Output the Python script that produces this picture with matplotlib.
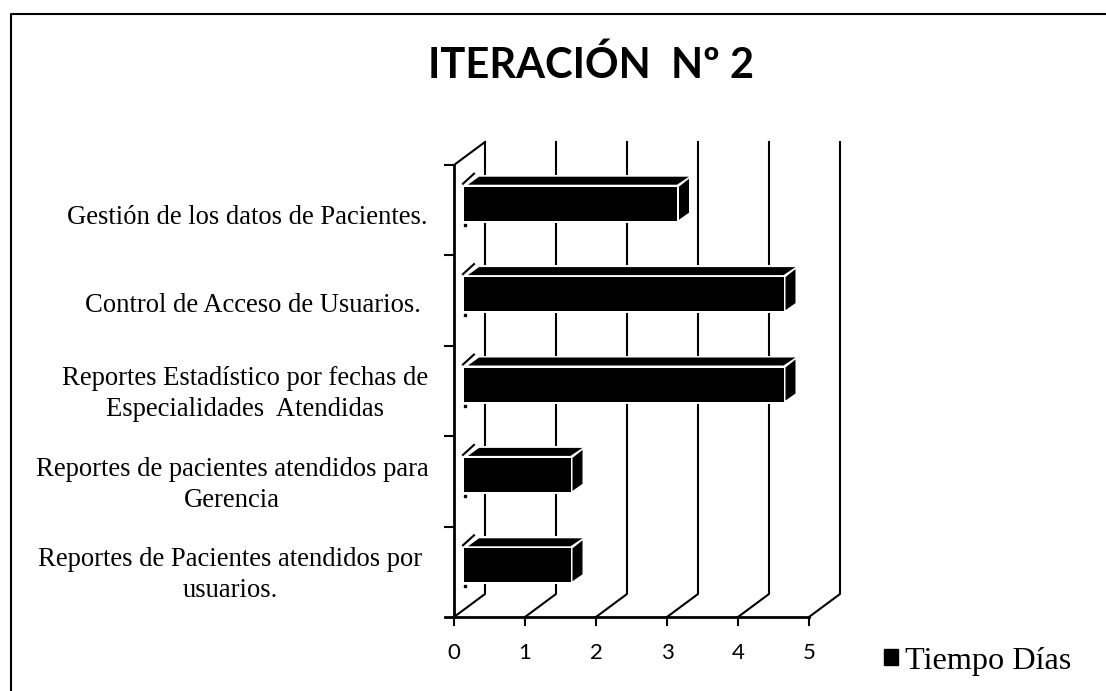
import matplotlib
matplotlib.use('Agg')
import matplotlib.pyplot as plt
from matplotlib.patches import Polygon, Patch
from matplotlib.lines import Line2D

W, H = 1106, 691

title = 'ITERACIÓN  Nº 2'
categorias = ['Reportes de Pacientes atendidos por\nusuarios.',
              'Reportes de pacientes atendidos para\nGerencia',
              'Reportes Estadístico por fechas de\nEspecialidades  Atendidas',
              'Control de Acceso de Usuarios.',
              'Gestión de los datos de Pacientes.']
dias = [1.5, 1.5, 4.5, 4.5, 3]
ticks_x = [0, 1, 2, 3, 4, 5]
serie = 'Tiempo Días'

# label centres in pixels, the labels are not lined up in the original
label_x = [230.5, 232, 245, 252.5, 247]
label_y = [575, 485, 394, 306, 218]

fig = plt.figure(figsize=(W / 100, H / 100), dpi=100, facecolor='white')
ax = fig.add_axes([454 / W, 1 - 617 / H, 355 / W, 452 / H])
ax.set_xlim(0, 5)
ax.set_ylim(0, 5)
ax.axis('off')

px = 5 / 355.0   # one pixel in x units
py = 5 / 452.0   # one pixel in y units

# back wall offset of the fake 3d box
wx, wy = 31 * px, 23 * py

for t in ticks_x:
    ax.plot([t, t + wx, t + wx], [0, wy, 5 + wy], color='black', lw=1.5, clip_on=False, zorder=1)
ax.plot([0, wx], [5, 5 + wy], color='black', lw=1.5, clip_on=False, zorder=1)

# front axes and ticks
ax.plot([0, 0], [0, 5], color='black', lw=2, clip_on=False, zorder=2)
ax.plot([-9 * px, 5], [0, 0], color='black', lw=2, clip_on=False, zorder=2)
for i in range(1, 6):
    ax.plot([-9 * px, 0], [i, i], color='black', lw=1.5, clip_on=False, zorder=2)
for t in ticks_x:
    ax.plot([t, t], [0, -8 * py], color='black', lw=1.5, clip_on=False, zorder=2)
    ax.text(t, -36 * py, str(t), family='Lato', fontsize=16, ha='center', va='center')

# bars
x0 = 10 * px
dx, dy = 12 * px, 10 * py
alto = 34 * py
for i, v in enumerate(dias):
    yb = i + 0.5 + 6.5 * py - alto / 2
    yt = yb + alto
    # blank out the wall behind the bar, with a margin
    ax.add_patch(Polygon([(x0 - 3 * px, yb - 2 * py), (x0 + v + dx + 3 * px, yb - 2 * py),
                          (x0 + v + dx + 3 * px, yt + dy + 2 * py), (x0 - 3 * px, yt + dy + 2 * py)],
                         fc='white', ec='none', zorder=3))
    ax.barh(i + 0.5 + 6.5 * py, v, height=alto, left=x0, color='black', zorder=4)
    ax.add_patch(Polygon([(x0 + 4 * px, yt + 2 * py), (x0 + dx + 3 * px, yt + dy), (x0 + v + dx, yt + dy),
                          (x0 + v, yt + 2 * py)], fc='black', ec='none', zorder=4))
    ax.add_patch(Polygon([(x0 + v + 2 * px, yb + 1 * py), (x0 + v + 2 * px, yt),
                          (x0 + v + dx, yt + dy - 2 * py), (x0 + v + dx, yb + 8 * py)],
                         fc='black', ec='none', zorder=4))
    ax.plot([x0 - 1 * px, x0 + 10 * px], [yt + 3 * py, yt + 13 * py], color='black', lw=1.5, zorder=4)
    ax.plot([x0 + 1 * px], [yb - 4 * py], marker='s', ms=1.5, color='black', zorder=4)

for cat, lx, ly in zip(categorias, label_x, label_y):
    fig.text(lx / W, 1 - ly / H, cat, family='Liberation Serif', fontsize=19.2, ha='center', va='center',
             linespacing=1.31)

fig.text(591 / W, 1 - 78 / H, title, family='Lato', weight='bold', fontsize=30, ha='center', va='baseline')

fig.legend(handles=[Patch(color='black', label=serie)], loc='center left',
           bbox_to_anchor=(884 / W, 1 - 661 / H), frameon=False, handlelength=0.42, handleheight=0.4,
           handletextpad=0.22, borderpad=0, borderaxespad=0,
           prop={'family': 'Liberation Serif', 'size': 23.2})

# page frame from the scanned document
fig.add_artist(Line2D([11 / W, 11 / W, 1], [0, 1 - 14 / H, 1 - 14 / H], color='black', lw=1.5))

fig.savefig('out.png', dpi=100)
